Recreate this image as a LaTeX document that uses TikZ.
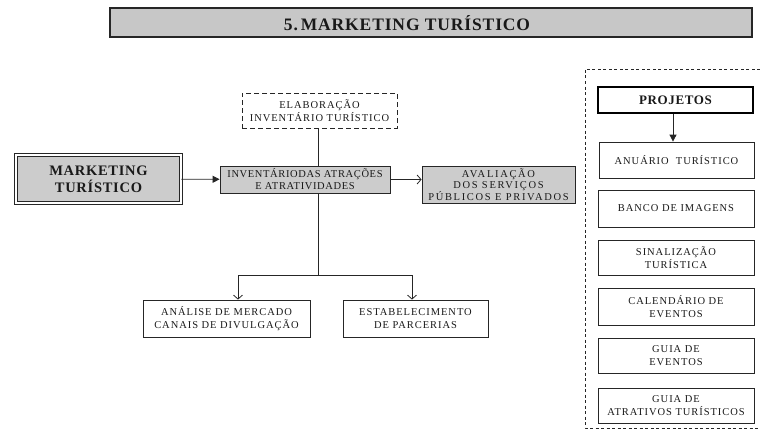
\documentclass[tikz,border=0pt]{standalone}
\usepackage{fontspec}
\setmainfont{Liberation Serif}
\newfontfamily\spaced[LetterSpace=9]{Liberation Serif}
\newfontfamily\tight[LetterSpace=6]{Liberation Serif}
\newfontfamily\wide[LetterSpace=16]{Liberation Serif}
\usetikzlibrary{arrows.meta}

\begin{document}
\begin{tikzpicture}[x=1pt,y=-1pt,
  every node/.style={inner sep=0pt, text=black!90},
  plain/.style={draw=black!85, line width=0.8pt, align=center,
    font=\spaced\fontsize{10.5}{13}\selectfont},
  shaded/.style={plain, fill=black!20},
  link/.style={draw=black!85, line width=0.8pt},
  solidtip/.style={link, -{Triangle[length=7pt,width=7pt]}},
  opentip/.style={link, -{Straight Barb[length=4pt,width=9pt]}},
]
\useasboundingbox (0,0) rectangle (760,436);

% title bar
\node[draw=black!85, fill=black!22, line width=1.3pt,
  minimum width=642, minimum height=29] (bar) at (431,22.5) {};
\node[font=\bfseries\fontsize{17.5}{20}\selectfont\addfontfeature{LetterSpace=5}]
  (title) at (407,23.5) {5.\,MARKETING TURÍSTICO};

% main flow
\node[shaded, draw, double, double distance=2pt, line width=0.8pt,
  minimum width=165, minimum height=48,
  font=\bfseries\fontsize{14.5}{17}\selectfont\addfontfeature{LetterSpace=5}]
  (mkt) at (98.5,179) {MARKETING\\TURÍSTICO};
\node[plain, dashed, dash pattern=on 5pt off 3pt, minimum width=155, minimum height=35]
  (elab) at (319.5,110.5) {ELABORAÇÃO\\INVENTÁRIO TURÍSTICO};
\node[shaded, minimum width=170, minimum height=27, font=\tight\fontsize{10.5}{12}\selectfont]
  (inv) at (305,179.5) {INVENTÁRIODAS ATRAÇÕES\\E ATRATIVIDADES};
\node[shaded, minimum width=153, minimum height=37, font=\wide\fontsize{10.5}{11.5}\selectfont]
  (aval) at (498.5,184.5) {AVALIAÇÃO\\DOS SERVIÇOS\\PÚBLICOS E PRIVADOS};
\node[plain, minimum width=167, minimum height=37]
  (ana) at (226.5,318.5) {ANÁLISE DE MERCADO\\CANAIS DE DIVULGAÇÃO};
\node[plain, minimum width=145, minimum height=37]
  (est) at (415.5,318.5) {ESTABELECIMENTO\\DE PARCERIAS};

\coordinate (spine) at (318,275);
\coordinate (jl) at (238,275);
\coordinate (jr) at (412,275);

\draw[solidtip] (mkt) -- (inv);
\draw[link] (spine |- elab.south) -- (spine |- inv.north);
\draw[opentip] (inv.east) -- (inv.east -| aval.west);
\draw[link] (spine |- inv.south) -- (spine);
\draw[link] (jl) -- (jr);
\draw[opentip] (jl) -- (jl |- ana.north);
\draw[opentip] (jr) -- (jr |- est.north);

% projects column
\draw[link, line width=0.7pt, dash pattern=on 3pt off 2.5pt]
  (760,69) -- (585,69) -- (585,428) -- (760,428);
\node[draw=black, line width=2.2pt, minimum width=155, minimum height=26,
  font=\bfseries\fontsize{13}{15}\selectfont\addfontfeature{LetterSpace=5}]
  (proj) at (675.5,100) {PROJETOS};
\node[plain, minimum width=155, minimum height=36] (anu) at (676.5,160) {ANUÁRIO\ \ TURÍSTICO};
\node[plain, minimum width=156, minimum height=37] (banco) at (676,208.5) {BANCO DE IMAGENS};
\node[plain, minimum width=156, minimum height=35] (sin) at (676,257.5) {SINALIZAÇÃO\\TURÍSTICA};
\node[plain, minimum width=156, minimum height=37] (cal) at (676,306.5) {CALENDÁRIO DE\\EVENTOS};
\node[plain, minimum width=156, minimum height=35] (gev) at (676,355.5) {GUIA DE\\EVENTOS};
\node[plain, minimum width=156, minimum height=35] (gat) at (676,405.5) {GUIA DE\\ATRATIVOS TURÍSTICOS};

\coordinate (drop) at (673,0);
\draw[solidtip] (drop |- proj.south) -- (drop |- anu.north);
\end{tikzpicture}
\end{document}
